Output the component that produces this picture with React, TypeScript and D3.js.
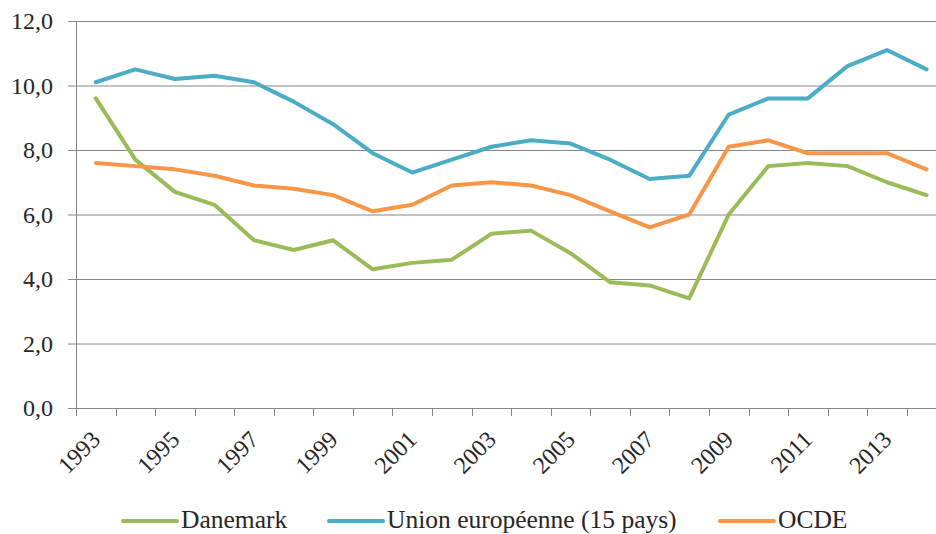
import React from 'react'
import * as d3 from 'd3'

const years = d3.range(1993, 2015).map(String)
const danemark = [9.6, 7.7, 6.7, 6.3, 5.2, 4.9, 5.2, 4.3, 4.5, 4.6, 5.4, 5.5, 4.8, 3.9, 3.8, 3.4, 6.0, 7.5, 7.6, 7.5, 7.0, 6.6]
const ue15 = [10.1, 10.5, 10.2, 10.3, 10.1, 9.5, 8.8, 7.9, 7.3, 7.7, 8.1, 8.3, 8.2, 7.7, 7.1, 7.2, 9.1, 9.6, 9.6, 10.6, 11.1, 10.5]
const ocde = [7.6, 7.5, 7.4, 7.2, 6.9, 6.8, 6.6, 6.1, 6.3, 6.9, 7.0, 6.9, 6.6, 6.1, 5.6, 6.0, 8.1, 8.3, 7.9, 7.9, 7.9, 7.4]
const yTicks = [0, 2, 4, 6, 8, 10, 12]

const series = [
  { name: 'Danemark', values: danemark, color: '#9bbb59' },
  { name: 'Union européenne (15 pays)', values: ue15, color: '#4bacc6' },
  { name: 'OCDE', values: ocde, color: '#f79646' }
]

const width = 936
const height = 534
const font = "'Liberation Serif', 'DejaVu Serif', 'Times New Roman', serif"

const App = () => {
  const x = d3.scaleBand()
    .domain(years)
    .range([76, 76 + years.length * 39.56])
    .padding(0)

  const y = d3.scaleLinear()
    .domain([0, 12])
    .range([408, 21])

  const cx = d => x(d) + x.bandwidth() / 2

  const line = d3.line()
    .x((d, i) => cx(years[i]))
    .y(d => y(d))

  // legend swatch / label positions
  const legendPos = [
    { lx: 123, tx: 181 },
    { lx: 329, tx: 387 },
    { lx: 720, tx: 778 }
  ]

  return (
    <svg width={width} height={height} style={{ position: 'absolute', left: 0, top: 0, fontFamily: font }}>
      <rect width={width} height={height} fill='#fff' />
      {/* grid + y axis */}
      {yTicks.map(t => (
        <g key={t}>
          <line x1={68} x2={width} y1={y(t) + 0.5} y2={y(t) + 0.5} stroke='#868686' strokeWidth={1} />
          <text x={53} y={y(t)} dy='0.35em' textAnchor='end' fontSize={24} fill='#262626'>
            {d3.format('.1f')(t).replace('.', ',')}
          </text>
        </g>
      ))}
      <line x1={76.5} x2={76.5} y1={y(12)} y2={y(0)} stroke='#868686' strokeWidth={1} />
      {/* x ticks */}
      {years.map(yr => (
        <line key={yr} x1={Math.round(x(yr)) + 0.5} x2={Math.round(x(yr)) + 0.5} y1={y(0)} y2={y(0) + 8} stroke='#868686' strokeWidth={1} />
      ))}
      {years.filter((d, i) => i % 2 === 0).map(yr => (
        <text key={yr} transform={`translate(${cx(yr) + 6},${y(0) + 33}) rotate(-45)`} textAnchor='end' fontSize={24} fill='#262626'>
          {yr}
        </text>
      ))}
      {/* lines */}
      {series.map(s => (
        <path key={s.name} d={line(s.values)} fill='none' stroke={s.color} strokeWidth={4} strokeLinejoin='round' strokeLinecap='round' />
      ))}
      {/* legend */}
      {series.map((s, i) => (
        <g key={s.name}>
          <line x1={legendPos[i].lx} x2={legendPos[i].lx + 54} y1={521} y2={521} stroke={s.color} strokeWidth={4} strokeLinecap='round' />
          <text x={legendPos[i].tx} y={528} fontSize={25.5} fill='#262626'>{s.name}</text>
        </g>
      ))}
    </svg>
  )
}

export default App
